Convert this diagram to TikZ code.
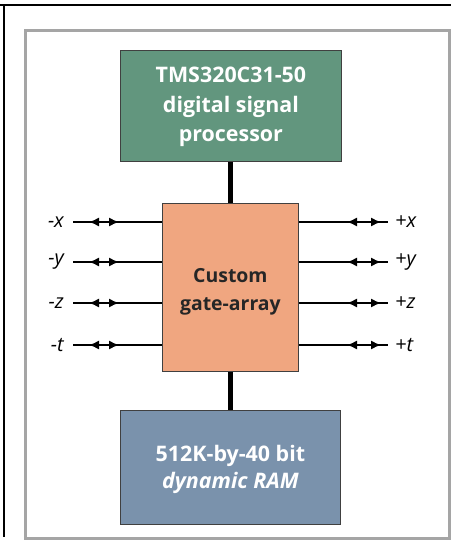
\documentclass[tikz,border=0pt]{standalone}
\usepackage{fontspec}
\setmainfont{Open Sans}
\usetikzlibrary{arrows.meta,calc}
\definecolor{dspgreen}{RGB}{98,150,126}
\definecolor{gaorange}{RGB}{240,166,128}
\definecolor{ramblue}{RGB}{122,146,172}
\definecolor{framegray}{RGB}{165,165,165}
\tikzset{
  blk/.style={draw=black!75, line width=0.8bp, inner sep=0pt},
  boxtext/.style={text=white, font=\fontsize{21.5}{29.5}\selectfont\bfseries, align=center},
  bus/.style={line width=5bp, black},
  sig/.style={line width=1.4bp, black},
  dbl/.style={line width=1.4bp, {Latex[length=10bp,width=9bp]}-{Latex[length=10bp,width=9bp]}},
  lbl/.style={font=\fontsize{20}{20}\selectfont\itshape, inner sep=0pt},
}
\begin{document}
\begin{tikzpicture}[x=1bp,y=-1bp]
\useasboundingbox (0,0) rectangle (451,541);
\fill[white] (0,0) rectangle (451,541);
% outer frame (partial, as cropped)
\draw[line width=2bp, black] (0,5) -- (451,5);
\draw[line width=2.5bp, black] (4,5) -- (4,537);
% gray frame
\draw[framegray, line width=3bp] (25.5,30.5) rectangle (449.5,538.5);
% boxes
\node[blk, fill=dspgreen, minimum width=221bp, minimum height=111bp, anchor=north west] (dsp) at (120,50) {};
\node[boxtext] (dsptext) at ($(dsp.center)+(0,1)$) {TMS320C31-50\\digital signal\\processor};
\node[blk, fill=gaorange, minimum width=136bp, minimum height=168bp, anchor=north west] (ga) at (162,203) {};
\node[boxtext, text=black!85, font=\fontsize{19.5}{28}\selectfont\bfseries] (gatext) at ($(ga.center)+(0,4)$) {Custom\\gate-array};
\node[blk, fill=ramblue, minimum width=220bp, minimum height=114bp, anchor=north west] (ram) at (120,410) {};
\node[boxtext, font=\fontsize{21.5}{27}\selectfont\bfseries] (ramtext) at ($(ram.center)+(0,2)$) {512K-by-40 bit\\\itshape dynamic RAM};
% buses
\draw[bus] (dsp.south -| 230,0) -- (ga.north -| 230,0);
\draw[bus] (ga.south -| 230,0) -- (ram.north -| 230,0);
% signal lines
\foreach \n/\yy in {x/222, y/262, z/303, t/345} {
  \node[lbl, anchor=east] (m\n) at (64,\yy) {-\n};
  \node[lbl, anchor=west] (p\n) at (395,\yy) {+\n};
  \coordinate (ml\n) at (73,\yy);
  \coordinate (pr\n) at (388,\yy);
  \draw[sig] (ml\n) -- (ga.west |- ml\n);
  \draw[sig] (ga.east |- pr\n) -- (pr\n);
  \draw[dbl] ($(ml\n)+(16,0)$) -- ($(ml\n)+(46,0)$);
  \draw[dbl] ($(pr\n)+(-41,0)$) -- ($(pr\n)+(-7,0)$);
}
\end{tikzpicture}
\end{document}
